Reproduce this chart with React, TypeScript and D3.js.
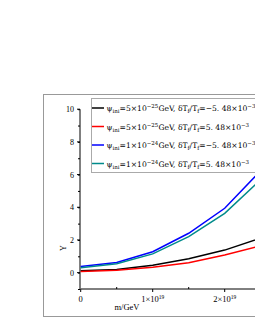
import React, { useRef, useEffect } from 'react';
import * as d3 from 'd3';

// m / GeV in units of 1e19
const masses = [0, 0.5, 1, 1.5, 2, 2.5];
const blackY = [0.12, 0.2, 0.45, 0.85, 1.38, 2.12];
const redY = [0.07, 0.14, 0.33, 0.6, 1.08, 1.64];
const blueY = [0.37, 0.62, 1.28, 2.41, 3.94, 6.24];
const tealY = [0.3, 0.55, 1.15, 2.2, 3.63, 5.69];

const series = [
  { color: '#000000', values: blackY, psi: '5', exp: '−25', sign: '−' },
  { color: '#ff0000', values: redY, psi: '5', exp: '−25', sign: '' },
  { color: '#0000ff', values: blueY, psi: '1', exp: '−24', sign: '−' },
  { color: '#008b8b', values: tealY, psi: '1', exp: '−24', sign: '' },
];

const yTicks = [0, 2, 4, 6, 8, 10];
const xTicks = [0, 1, 2];

const width = 255;
const height = 330;
const font = '"Liberation Serif", "DejaVu Serif", serif';
const legendFont = '"DejaVu Serif", serif';

const App = () => {
  const ref = useRef<SVGSVGElement>(null);

  useEffect(() => {
    const svg = d3.select(ref.current);
    svg.selectAll('*').remove();

    const x = d3.scaleLinear().domain([0, 3]).range([80.7, 296.7]);
    const y = d3.scaleLinear().domain([-1, 10]).range([289, 109.2]);

    // outer frame
    svg
      .append('rect')
      .attr('x', 43.5)
      .attr('y', 94.5)
      .attr('width', 260)
      .attr('height', 222)
      .attr('fill', 'none')
      .attr('stroke', '#999')
      .attr('stroke-width', 1);

    // y axis
    const gy = svg.append('g').attr('transform', 'translate(80,0)');
    gy.call(
      d3
        .axisLeft(y)
        .tickValues(d3.range(-1, 11, 1))
        .tickSize(2)
        .tickFormat(() => ''),
    );
    gy.call((g) => g.select('.domain').remove());
    gy.append('line')
      .attr('y1', y(-1))
      .attr('y2', y(10))
      .attr('stroke', '#000');
    gy.selectAll('.tick line').attr('stroke', '#000');
    gy.selectAll('.ymaj')
      .data(yTicks)
      .enter()
      .append('line')
      .attr('x1', -3)
      .attr('x2', 0)
      .attr('y1', (d) => y(d))
      .attr('y2', (d) => y(d))
      .attr('stroke', '#000');
    gy.selectAll('.ylab')
      .data(yTicks)
      .enter()
      .append('text')
      .attr('x', -6)
      .attr('y', (d) => y(d) + 3)
      .attr('text-anchor', 'end')
      .attr('fill', '#000')
      .attr('font-family', font)
      .attr('font-size', 8)
      .text((d) => d);

    // x axis
    const gx = svg.append('g').attr('transform', `translate(0,${y(-1)})`);
    gx.append('line')
      .attr('x1', x(0))
      .attr('x2', x(3))
      .attr('stroke', '#000');
    gx.selectAll('.xmin')
      .data(d3.range(0, 3.01, 0.5))
      .enter()
      .append('line')
      .attr('x1', (d) => x(d))
      .attr('x2', (d) => x(d))
      .attr('y1', 0)
      .attr('y2', (d) => (d % 1 === 0 ? 3 : -2))
      .attr('stroke', '#000');
    const xl = gx
      .selectAll('.xlab')
      .data(xTicks)
      .enter()
      .append('text')
      .attr('x', (d) => x(d))
      .attr('y', 13)
      .attr('text-anchor', 'middle')
      .attr('fill', '#000')
      .attr('font-family', font)
      .attr('font-size', 8.5);
    xl.each(function (d) {
      const t = d3.select(this);
      if (d === 0) {
        t.text('0');
      } else {
        t.append('tspan').text(`${d}×10`);
        t.append('tspan').attr('font-size', 5.5).attr('dy', -3).text('19');
      }
    });

    svg
      .append('text')
      .attr('x', 127)
      .attr('y', 310)
      .attr('text-anchor', 'middle')
      .attr('font-family', font)
      .attr('font-size', 8.5)
      .text('m/GeV');

    svg
      .append('text')
      .attr('transform', `translate(66,248) rotate(-90)`)
      .attr('text-anchor', 'middle')
      .attr('font-family', font)
      .attr('font-size', 8)
      .text('Y');

    // lines
    const line = d3
      .line<number>()
      .x((_, i) => x(masses[i]))
      .y((d) => y(d));
    series.forEach((s) => {
      svg
        .append('path')
        .datum(s.values)
        .attr('fill', 'none')
        .attr('stroke', s.color)
        .attr('stroke-width', 1.5)
        .attr('d', line);
    });

    // legend
    const lg = svg.append('g');
    lg.append('rect')
      .attr('x', 91.5)
      .attr('y', 98.5)
      .attr('width', 200)
      .attr('height', 74)
      .attr('fill', '#fff')
      .attr('stroke', '#aaa');
    series.forEach((s, i) => {
      const ry = 108 + i * 18.5;
      lg.append('line')
        .attr('x1', 92)
        .attr('x2', 104)
        .attr('y1', ry)
        .attr('y2', ry)
        .attr('stroke', s.color)
        .attr('stroke-width', 1.5);
      const t = lg
        .append('text')
        .attr('x', 106.5)
        .attr('y', ry + 3)
        .attr('font-family', legendFont)
        .attr('font-size', 7.6);
      t.append('tspan').text('ψ');
      t.append('tspan').attr('font-size', 5.5).attr('dy', 2).text('ini');
      t.append('tspan').attr('dy', -2).text(`=${s.psi}×10`);
      t.append('tspan').attr('font-size', 5.5).attr('dy', -3).text(s.exp);
      t.append('tspan').attr('dy', 3).text('GeV, δT');
      t.append('tspan').attr('font-size', 5.5).attr('dy', 2).text('f');
      t.append('tspan').attr('dy', -2).text('/T');
      t.append('tspan').attr('font-size', 5.5).attr('dy', 2).text('f');
      t.append('tspan').attr('dy', -2).text(`=${s.sign}5. 48×10`);
      t.append('tspan').attr('font-size', 5.5).attr('dy', -3).text('−3');
    });
  }, []);

  return (
    <svg
      ref={ref}
      width={width}
      height={height}
      style={{ position: 'absolute', left: 0, top: 0, background: '#fff' }}
    ></svg>
  );
};

export default App;
